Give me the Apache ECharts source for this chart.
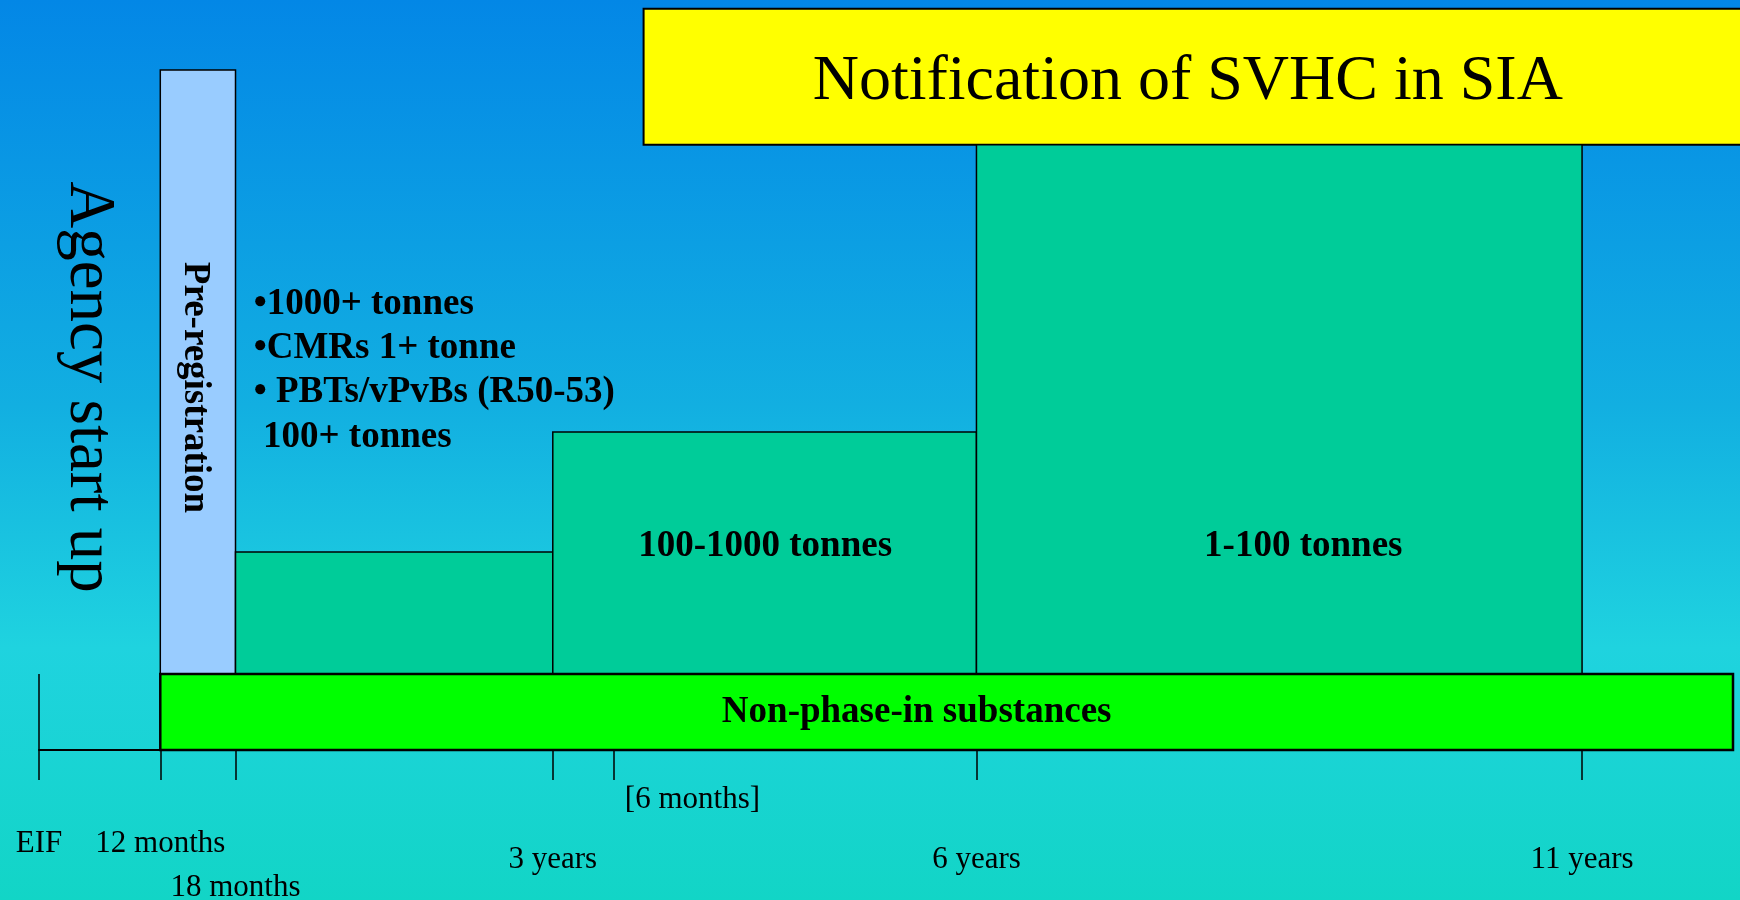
<!DOCTYPE html>
<html>
<head>
<meta charset="utf-8">
<title>REACH timeline</title>
<script src="https://cdn.jsdelivr.net/npm/echarts@6/dist/echarts.min.js"></script>
<style>
    html, body { margin: 0; padding: 0; }
    #chart { width: 1740px; height: 900px; }
</style>
</head>
<body>
<div id="chart"></div>
<script>
    // timeline milestones (schematic position along the drawn axis, 0-100)
    const milestoneLabels = ['EIF', '12 months', '18 months', '3 years', '[6 months]', '6 years', '11 years'];
    const milestonePos = [0, 7.16, 11.6, 30.33, 33.94, 55.34, 91.09];

    // phases drawn as boxes: start/end on the timeline, bottom/top heights
    const bandLabels = [
        'Notification of SVHC in SIA',
        'Pre-registration',
        '•1000+ tonnes\n•CMRs 1+ tonne\n• PBTs/vPvBs (R50-53)\n 100+ tonnes',
        '100-1000 tonnes',
        '1-100 tonnes',
        'Non-phase-in substances'
    ];
    const bandStart = [35.69, 7.16, 11.6, 30.33, 55.34, 7.16];
    const bandEnd = [101, 11.6, 30.33, 55.34, 91.09, 100];
    const bandBottom = [80.7, 10.13, 10.13, 10.13, 10.13, 0];
    const bandTop = [98.85, 90.67, 26.4, 42.4, 80.7, 10.13];

    const sideNote = 'Agency start up';

    // styles
    const serif = '"Liberation Serif", "Times New Roman", serif';
    const bandColors = ['#ffff00', '#99ccff', '#00cc99', '#00cc99', '#00cc99', '#00ff00'];
    const bandBorders = [2, 1.5, 1.5, 1.5, 1.5, 2.5];
    // offsets are in the text's own frame (rotated text: x runs down the bar)
    const bandText = [
        {font: '64px ' + serif, position: 'inside', offset: [-9, 5]},
        {font: 'bold 37px ' + serif, position: 'inside', offset: [15.5, 3.5], rotation: -Math.PI / 2},
        {font: 'bold 37px ' + serif, position: [19, -269.5], lineHeight: 44.4, align: 'left', verticalAlign: 'top'},
        {font: 'bold 37px ' + serif, position: 'inside', offset: [0.5, -6.5]},
        {font: 'bold 37px ' + serif, position: 'inside', offset: [24, 137]},
        {font: 'bold 37px ' + serif, position: 'inside', offset: [-30, 0]}
    ];
    // which rich style each axis label uses (vertical staggering)
    const labelRows = ['mid', 'mid', 'low', 'year', 'note', 'year', 'year'];

    const bandData = bandLabels.map((name, i) => [bandStart[i], bandEnd[i], bandBottom[i], bandTop[i], i]);

    let myChart = echarts.init(document.getElementById('chart'));
    myChart.setOption({
        animation: false,
        backgroundColor: {
            type: 'linear', x: 0, y: 0, x2: 0, y2: 1,
            colorStops: [
                {offset: 0, color: '#0387e6'},
                {offset: 0.45, color: '#12afe1'},
                {offset: 0.72, color: '#1fd3df'},
                {offset: 1, color: '#12d5c6'}
            ]
        },
        grid: {
            left: 39,
            right: 7,
            top: 0,
            bottom: 150,
            containLabel: false,
            outerBoundsMode: 'none'
        },
        xAxis: {
            type: 'value',
            min: 0,
            max: 100,
            splitLine: {show: false},
            axisLine: {
                show: true,
                onZero: false,
                lineStyle: {color: '#000', width: 2}
            },
            axisTick: {
                show: true,
                customValues: milestonePos,
                length: 30,
                lineStyle: {color: '#000', width: 1.5}
            },
            axisLabel: {
                customValues: milestonePos,
                margin: 34,
                color: '#000',
                fontFamily: serif,
                fontSize: 31,
                formatter(value) {
                    let i = milestonePos.indexOf(value);
                    if (i < 0) return '';
                    return '{' + labelRows[i] + '|' + milestoneLabels[i] + '}';
                },
                rich: {
                    note: {fontFamily: serif, fontSize: 31, color: '#000', padding: [0, 0, 0, 157]},
                    mid: {fontFamily: serif, fontSize: 31, color: '#000', padding: [44, 0, 0, 0]},
                    year: {fontFamily: serif, fontSize: 31, color: '#000', padding: [60, 0, 0, 0]},
                    low: {fontFamily: serif, fontSize: 31, color: '#000', padding: [88, 0, 0, 0]}
                }
            }
        },
        yAxis: {
            type: 'value',
            min: 0,
            max: 100,
            show: false
        },
        graphic: [
            {
                type: 'text',
                x: 88.5,
                y: 387,
                rotation: -Math.PI / 2,
                style: {
                    text: sideNote,
                    font: '65px ' + serif,
                    fill: '#000',
                    align: 'center',
                    verticalAlign: 'middle'
                }
            }
        ],
        series: [
            {
                name: 'phases',
                type: 'custom',
                clip: false,
                encode: {x: [0, 1], y: [2, 3]},
                data: bandData,
                renderItem(params, api) {
                    let i = api.value(4);
                    let p0 = api.coord([api.value(0), api.value(3)]);
                    let p1 = api.coord([api.value(1), api.value(2)]);
                    let t = bandText[i];
                    return {
                        type: 'rect',
                        shape: {x: p0[0], y: p0[1], width: p1[0] - p0[0], height: p1[1] - p0[1]},
                        style: {fill: bandColors[i], stroke: '#000', lineWidth: bandBorders[i]},
                        textContent: {
                            style: {
                                text: bandLabels[i],
                                font: t.font,
                                fill: '#000',
                                align: t.align || 'center',
                                verticalAlign: t.verticalAlign || 'middle',
                                lineHeight: t.lineHeight
                            }
                        },
                        textConfig: {
                            position: t.position,
                            offset: t.offset,
                            rotation: t.rotation || 0
                        }
                    };
                },
                markLine: {
                    silent: true,
                    symbol: 'none',
                    label: {show: false},
                    lineStyle: {color: '#000', width: 1.5, type: 'solid'},
                    data: [
                        [{coord: [milestonePos[0], 0]}, {coord: [milestonePos[0], bandTop[5]]}]
                    ]
                }
            }
        ]
    });
</script>
</body>
</html>
